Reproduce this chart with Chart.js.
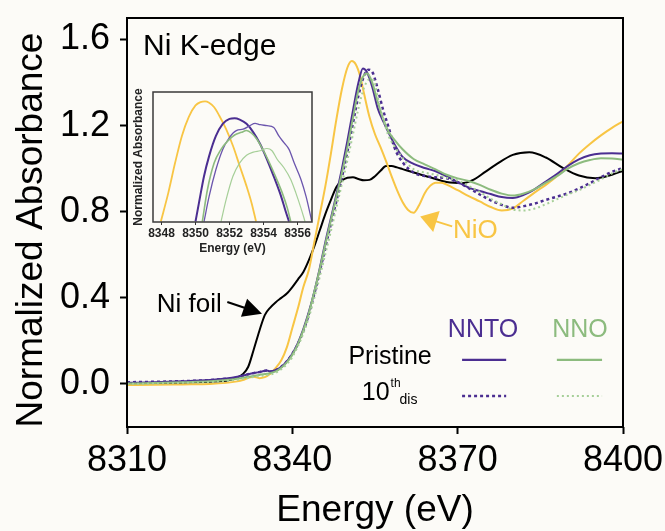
<!DOCTYPE html>
<html><head><meta charset="utf-8">
<script src="https://cdn.jsdelivr.net/npm/chart.js@4.4.1/dist/chart.umd.min.js"></script>
<style>
html,body{margin:0;padding:0;background:#fcfbf7;}
#wrap{position:relative;width:665px;height:531px;overflow:hidden;}
#main{position:absolute;left:0;top:0;}
#inset{position:absolute;left:125px;top:82px;}
</style></head><body>
<div id="wrap"><canvas id="main" width="665" height="531"></canvas><canvas id="inset" width="195" height="175"></canvas></div>
<script>
// ---------- tick labels ----------
const xTicks = [8310, 8340, 8370, 8400];
const yTicks = [0.0, 0.4, 0.8, 1.2, 1.6];
const insetXTicks = [8348, 8350, 8352, 8354, 8356];

// ---------- main spectra ----------
const niFoilE = [8310,8315,8320,8325,8328,8329,8330,8331,8332,8333,8334,8335,8336,8337,8338,8339,8340,8341,8342,8343,8344,8345,8346,8347,8348,8349,8350,8351,8352,8353,8354,8355,8356,8357,8358,8359,8360,8362,8365,8368,8371,8373,8375,8377,8380,8383,8386,8389,8392,8395,8398,8400];
const niFoilA = [0.0,0.002,0.005,0.01,0.015,0.02,0.03,0.045,0.08,0.16,0.245,0.32,0.355,0.38,0.40,0.42,0.45,0.485,0.52,0.575,0.64,0.715,0.79,0.855,0.915,0.945,0.958,0.96,0.952,0.946,0.948,0.965,0.99,1.012,1.012,1.006,0.998,0.982,0.96,0.938,0.933,0.95,0.985,1.02,1.064,1.076,1.052,1.005,0.968,0.956,0.972,0.99];

const nioE = [8310,8315,8320,8325,8328,8330,8331,8332,8333,8334,8335,8336,8337,8338,8339,8340,8341,8342,8343,8344,8345,8346,8347,8348,8349,8350,8350.8,8351.5,8352.3,8353,8354,8355,8356,8357,8358,8359,8360,8361,8362,8363,8364,8365,8366,8367,8368,8370,8372,8374,8376,8378,8380,8382,8384,8386,8388,8390,8392,8394,8396,8398,8400];
const nioA = [-0.005,-0.004,-0.002,0.0,0.005,0.012,0.018,0.028,0.034,0.027,0.032,0.048,0.075,0.11,0.17,0.26,0.35,0.45,0.53,0.66,0.79,0.92,1.07,1.23,1.37,1.47,1.50,1.485,1.43,1.35,1.24,1.16,1.10,1.035,0.965,0.90,0.845,0.808,0.795,0.83,0.885,0.92,0.935,0.935,0.926,0.9,0.873,0.848,0.822,0.806,0.815,0.852,0.89,0.925,0.965,1.015,1.07,1.115,1.155,1.19,1.22];

const nntoPristineE = [8310,8315,8320,8325,8328,8330,8332,8334,8335.4,8336,8337,8338,8339,8340,8341,8342,8343,8344,8345,8346,8347,8348,8349,8350,8351,8352,8352.8,8353.5,8354.5,8355.5,8356.5,8357.5,8358.5,8360,8362,8364,8366,8368,8370,8372,8374,8376,8378,8380,8382,8384,8386,8388,8390,8392,8394,8396,8398,8400];
const nntoPristineA = [0.005,0.008,0.012,0.018,0.025,0.033,0.045,0.055,0.062,0.058,0.065,0.08,0.105,0.14,0.19,0.255,0.335,0.43,0.54,0.66,0.77,0.88,1.0,1.13,1.27,1.40,1.465,1.45,1.38,1.28,1.22,1.165,1.115,1.055,1.022,1.003,0.988,0.964,0.938,0.912,0.896,0.882,0.868,0.864,0.878,0.905,0.94,0.975,1.013,1.043,1.062,1.07,1.072,1.07];

const nnto10thE = [8310,8315,8320,8325,8328,8330,8332,8334,8335.4,8336,8337,8338,8339,8340,8341,8342,8343,8344,8345,8346,8347,8348,8349,8350,8351,8352,8353,8353.8,8354.6,8355.5,8356.5,8357.5,8358.5,8360,8362,8364,8366,8368,8370,8372,8374,8376,8378,8380,8382,8384,8386,8388,8390,8392,8394,8396,8398,8400];
const nnto10thA = [0.008,0.01,0.013,0.018,0.024,0.03,0.045,0.055,0.062,0.058,0.064,0.08,0.105,0.14,0.185,0.245,0.325,0.42,0.525,0.635,0.745,0.85,0.96,1.08,1.21,1.34,1.43,1.46,1.445,1.37,1.27,1.19,1.10,1.03,0.982,0.966,0.96,0.956,0.937,0.91,0.88,0.853,0.832,0.818,0.826,0.838,0.855,0.87,0.886,0.908,0.933,0.96,0.985,1.003];

const nnoPristineE = [8310,8315,8320,8325,8328,8330,8332,8334,8336,8337,8338,8339,8340,8341,8342,8343,8344,8345,8346,8347,8348,8349,8350,8351,8352,8353,8353.6,8354.5,8355.5,8356.5,8357.5,8358.5,8360,8362,8364,8366,8368,8370,8372,8374,8376,8378,8380,8382,8384,8386,8388,8390,8392,8394,8396,8398,8400];
const nnoPristineA = [0.002,0.004,0.008,0.012,0.018,0.024,0.033,0.042,0.05,0.058,0.075,0.1,0.135,0.185,0.25,0.33,0.43,0.535,0.65,0.76,0.87,0.98,1.10,1.235,1.365,1.435,1.442,1.40,1.31,1.23,1.17,1.135,1.09,1.045,1.02,0.997,0.972,0.955,0.943,0.925,0.902,0.884,0.875,0.885,0.905,0.935,0.965,1.0,1.025,1.04,1.048,1.047,1.042];

const nno10thE = [8310,8315,8320,8325,8328,8330,8332,8334,8336,8337,8338,8339,8340,8341,8342,8343,8344,8345,8346,8347,8348,8349,8350,8351,8352,8353,8354,8354.8,8355.5,8356.5,8357.5,8358.5,8360,8362,8364,8366,8368,8370,8372,8374,8376,8378,8380,8382,8384,8386,8388,8390,8392,8394,8396,8398,8400];
const nno10thA = [0.0,0.002,0.005,0.009,0.014,0.02,0.028,0.036,0.044,0.052,0.068,0.092,0.125,0.175,0.235,0.31,0.40,0.50,0.605,0.71,0.82,0.93,1.04,1.16,1.28,1.375,1.415,1.41,1.33,1.23,1.15,1.105,1.05,0.998,0.982,0.972,0.958,0.945,0.92,0.892,0.86,0.835,0.81,0.806,0.815,0.835,0.858,0.88,0.9,0.925,0.95,0.978,0.998];

// ---------- inset (peak region) ----------
const insetNiOE = [8347.96,8348.4,8348.8,8349.2,8349.6,8350.0,8350.3,8350.56,8350.8,8351.1,8351.4,8351.8,8352.2,8352.6,8353.0,8353.3,8353.56];
const insetNiOA = [1.236,1.300,1.367,1.427,1.469,1.495,1.5025,1.504,1.501,1.491,1.472,1.442,1.405,1.36,1.315,1.277,1.236];
const insetNntoPristineE = [8350.0,8350.2,8350.5,8350.8,8351.2,8351.6,8352.0,8352.3,8352.6,8353.0,8353.4,8353.8,8354.2,8354.6,8355.0,8355.3,8355.5];
const insetNntoPristineA = [1.236,1.277,1.337,1.382,1.427,1.454,1.465,1.4665,1.4635,1.454,1.435,1.409,1.375,1.337,1.296,1.259,1.236];
const insetNnto10thE = [8350.5,8350.8,8351.2,8351.6,8352.0,8352.4,8352.8,8353.2,8353.5,8353.8,8354.2,8354.6,8354.9,8355.2,8355.5,8355.8,8356.2,8356.5,8356.84];
const insetNnto10thA = [1.236,1.292,1.352,1.397,1.424,1.439,1.442,1.45,1.455,1.452,1.45,1.446,1.427,1.412,1.397,1.367,1.33,1.292,1.236];
const insetNnoPristineE = [8350.4,8350.7,8351.1,8351.5,8351.9,8352.3,8352.7,8353.0,8353.3,8353.6,8353.9,8354.3,8354.7,8355.1,8355.4,8355.6];
const insetNnoPristineA = [1.236,1.307,1.367,1.397,1.416,1.429,1.435,1.439,1.433,1.42,1.401,1.371,1.337,1.30,1.266,1.236];
const insetNno10thE = [8351.5,8351.8,8352.2,8352.6,8353.0,8353.4,8353.8,8354.2,8354.5,8354.8,8355.2,8355.6,8355.9,8356.2,8356.44];
const insetNno10thA = [1.236,1.285,1.337,1.367,1.384,1.391,1.394,1.399,1.394,1.375,1.356,1.33,1.30,1.266,1.236];

// ---------- styling ----------
const FONT = '"Liberation Sans", Arial, Helvetica, sans-serif';
const BG = '#fcfbf7';
const PURPLE = '#4b2e91', PURPLE_L = '#6b55ad';
const GREEN = '#8cbb7e', GREEN_L = '#a6cf98';
const YELLOW = '#f8c544', BLACK = '#000000';

const pts = (xs, ys) => xs.map((x, i) => ({x: x, y: ys[i]}));

const bgPlugin = {
  id: 'bg',
  beforeDraw(chart) {
    const c = chart.ctx; c.save(); c.fillStyle = BG; c.fillRect(0, 0, chart.width, chart.height); c.restore();
  }
};
const framePlugin = {
  id: 'frame',
  afterDatasetsDraw(chart, args, opts) {
    const {ctx, chartArea: a} = chart;
    ctx.save(); ctx.strokeStyle = opts.color || '#000'; ctx.lineWidth = opts.width || 2;
    ctx.strokeRect(a.left, a.top, a.right - a.left, a.bottom - a.top); ctx.restore();
  }
};

function arrow(ctx, x0, y0, x1, y1, headLen, headHalf, color) {
  const dx = x1 - x0, dy = y1 - y0, L = Math.hypot(dx, dy), ux = dx / L, uy = dy / L;
  const bx = x1 - ux * headLen, by = y1 - uy * headLen;
  ctx.strokeStyle = color; ctx.fillStyle = color; ctx.lineWidth = 2;
  ctx.beginPath(); ctx.moveTo(x0, y0); ctx.lineTo(bx + ux * 2, by + uy * 2); ctx.stroke();
  ctx.beginPath(); ctx.moveTo(x1, y1);
  ctx.lineTo(bx - uy * headHalf, by + ux * headHalf);
  ctx.lineTo(bx + uy * headHalf, by - ux * headHalf);
  ctx.closePath(); ctx.fill();
}

const annotPlugin = {
  id: 'annot',
  afterDraw(chart) {
    const {ctx, scales: {x, y}} = chart;
    const X = v => x.getPixelForValue(v), Y = v => y.getPixelForValue(v);
    ctx.save();
    ctx.textBaseline = 'alphabetic';
    // y axis title
    ctx.save();
    ctx.translate(42, 230); ctx.rotate(-Math.PI / 2);
    ctx.font = '37px ' + FONT; ctx.fillStyle = '#000'; ctx.textAlign = 'center';
    ctx.fillText('Normalized Absorbance', 0, 0);
    ctx.restore();
    // panel label
    ctx.textAlign = 'left'; ctx.fillStyle = '#000';
    ctx.font = '30px ' + FONT;
    ctx.fillText('Ni K-edge', X(8312.9), Y(1.53));
    // Ni foil
    ctx.font = '26px ' + FONT;
    ctx.fillText('Ni foil', X(8315.4), Y(0.335));
    arrow(ctx, X(8328.2), Y(0.381), X(8334.5), Y(0.326), 19, 9.5, BLACK);
    // NiO
    ctx.fillStyle = YELLOW; ctx.font = '26px ' + FONT;
    ctx.fillText('NiO', X(8369.15), Y(0.679));
    arrow(ctx, X(8369.0), Y(0.732), X(8363.2), Y(0.778), 17, 11, YELLOW);
    // legend
    ctx.textAlign = 'center'; ctx.font = '25px ' + FONT;
    ctx.fillStyle = PURPLE; ctx.fillText('NNTO', X(8374.6), Y(0.219));
    ctx.fillStyle = GREEN; ctx.fillText('NNO', X(8392.2), Y(0.219));
    ctx.fillStyle = '#000'; ctx.textAlign = 'right';
    ctx.fillText('Pristine', X(8365.3), Y(0.093));
    ctx.textAlign = 'left';
    const x10 = X(8352.6), yb = Y(-0.0744);
    ctx.fillText('10', x10, yb);
    const w10 = ctx.measureText('10').width;
    ctx.font = '12px ' + FONT; ctx.fillText('th', x10 + w10 + 1, Y(-0.014));
    ctx.font = '14px ' + FONT; ctx.fillText('dis', x10 + w10 + 10, Y(-0.093));
    // legend line samples
    const seg = (c, w, dash, x0, x1, yy) => {
      ctx.save(); ctx.strokeStyle = c; ctx.lineWidth = w; ctx.setLineDash(dash);
      ctx.beginPath(); ctx.moveTo(X(x0), Y(yy)); ctx.lineTo(X(x1), Y(yy)); ctx.stroke(); ctx.restore();
    };
    seg(PURPLE, 2.2, [], 8370.8, 8378.8, 0.1116);
    seg(GREEN, 2.2, [], 8388.0, 8396.2, 0.1116);
    seg(PURPLE, 2.5, [3, 3], 8370.8, 8378.8, -0.0558);
    seg(GREEN_L, 2, [2, 3], 8388.0, 8396.2, -0.0558);
    ctx.restore();
  }
};

const lineDs = (xs, ys, color, width, dash) => ({
  data: pts(xs, ys), borderColor: color, borderWidth: width, borderDash: dash || [],
  pointRadius: 0, fill: false, cubicInterpolationMode: 'monotone'
});

new Chart(document.getElementById('main'), {
  type: 'line',
  data: { datasets: [
    lineDs(nno10thE, nno10thA, GREEN_L, 2, [2, 3]),
    lineDs(nnoPristineE, nnoPristineA, GREEN, 2),
    lineDs(nnto10thE, nnto10thA, PURPLE, 2.5, [3, 3]),
    lineDs(nntoPristineE, nntoPristineA, PURPLE, 2),
    lineDs(nioE, nioA, YELLOW, 2),
    lineDs(niFoilE, niFoilA, BLACK, 2)
  ]},
  options: {
    responsive: false, animation: false, devicePixelRatio: 1,
    layout: { padding: { left: 0, top: 18, right: 42, bottom: 0 } },
    plugins: { legend: { display: false }, tooltip: { enabled: false }, frame: { width: 2, color: '#000' } },
    scales: {
      x: {
        type: 'linear', min: 8310, max: 8400,
        afterBuildTicks: s => { s.ticks = xTicks.map(v => ({value: v})); },
        afterFit: s => { s.height = 104; s.paddingLeft = 0; s.paddingRight = 0; },
        ticks: { font: { family: FONT, size: 36 }, color: '#000', padding: 5, maxRotation: 0, autoSkip: false, callback: v => String(v) },
        grid: { drawOnChartArea: false, drawTicks: true, tickLength: 7, tickWidth: 2, tickColor: '#000' },
        border: { display: false },
        title: { display: true, text: 'Energy (eV)', color: '#000', font: { family: FONT, size: 37, lineHeight: 1 }, padding: { top: 0, bottom: 2 } }
      },
      y: {
        type: 'linear', min: -0.2, max: 1.7,
        afterBuildTicks: s => { s.ticks = yTicks.map(v => ({value: v})); },
        afterFit: s => { s.width = 127; s.paddingTop = 0; s.paddingBottom = 0; },
        ticks: { font: { family: FONT, size: 36 }, color: '#000', padding: 10, callback: v => v.toFixed(1) },
        grid: { drawOnChartArea: false, drawTicks: true, tickLength: 7, tickWidth: 2, tickColor: '#000' },
        border: { display: false },
        title: { display: false }
      }
    }
  },
  plugins: [bgPlugin, framePlugin, annotPlugin]
});

const insetBg = {
  id: 'insetBg',
  beforeDatasetsDraw(chart) {
    const {ctx, chartArea: a} = chart; ctx.save(); ctx.fillStyle = BG;
    ctx.fillRect(a.left, a.top, a.right - a.left, a.bottom - a.top); ctx.restore();
  }
};

new Chart(document.getElementById('inset'), {
  type: 'line',
  data: { datasets: [
    lineDs(insetNno10thE, insetNno10thA, GREEN_L, 1.2),
    lineDs(insetNnoPristineE, insetNnoPristineA, GREEN, 1.6),
    lineDs(insetNnto10thE, insetNnto10thA, PURPLE_L, 1.3),
    lineDs(insetNntoPristineE, insetNntoPristineA, PURPLE, 2),
    lineDs(insetNiOE, insetNiOA, YELLOW, 1.8)
  ]},
  options: {
    responsive: false, animation: false, devicePixelRatio: 1,
    layout: { padding: { left: 0, top: 10, right: 8, bottom: 0 } },
    plugins: { legend: { display: false }, tooltip: { enabled: false }, frame: { width: 1.5, color: '#3a3a3a' } },
    scales: {
      x: {
        type: 'linear', min: 8347.5, max: 8356.85,
        afterBuildTicks: s => { s.ticks = insetXTicks.map(v => ({value: v})); },
        afterFit: s => { s.height = 35; s.paddingLeft = 0; s.paddingRight = 0; },
        ticks: { font: { family: FONT, size: 12, weight: 'bold' }, color: '#222', padding: 1, maxRotation: 0, autoSkip: false, callback: v => String(v) },
        grid: { drawOnChartArea: false, drawTicks: true, tickLength: 3, tickWidth: 1, tickColor: '#333' },
        border: { display: false },
        title: { display: true, text: 'Energy (eV)', color: '#222', font: { family: FONT, size: 12, weight: 'bold', lineHeight: 1 }, padding: { top: 0, bottom: 2 } }
      },
      y: {
        type: 'linear', min: 1.235, max: 1.525,
        afterFit: s => { s.width = 28; s.paddingTop = 0; s.paddingBottom = 0; },
        ticks: { display: false },
        grid: { display: false },
        border: { display: false },
        title: { display: true, text: 'Normalized Absorbance', color: '#222', font: { family: FONT, size: 12, weight: 'bold', lineHeight: 1 }, padding: { top: 8, bottom: 0 } }
      }
    }
  },
  plugins: [insetBg, framePlugin]
});
</script>
</body></html>
